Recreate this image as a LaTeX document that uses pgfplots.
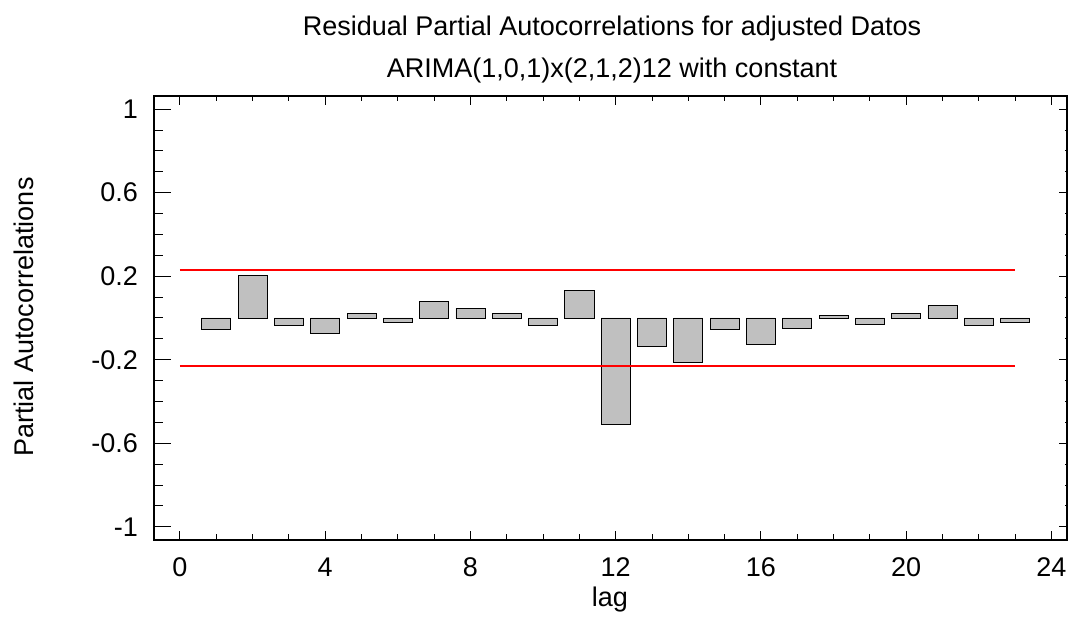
\documentclass[border=0pt]{standalone}
\usepackage{fontspec}
\setmainfont{Liberation Sans}
\usepackage{pgfplots}
\usepackage{pgfplotstable}
\pgfplotsset{compat=1.18}

\definecolor{barfill}{HTML}{C0C0C0}
\definecolor{limred}{HTML}{FF0000}
\newcommand{\lblfont}{\fontsize{27}{32}\selectfont}

% residual partial autocorrelations by lag
\pgfplotstableread{
lag pacf
1  -0.056
2   0.203
3  -0.037
4  -0.075
5   0.021
6  -0.019
7   0.078
8   0.046
9   0.021
10 -0.037
11  0.134
12 -0.511
13 -0.137
14 -0.212
15 -0.056
16 -0.125
17 -0.050
18  0.014
19 -0.032
20  0.021
21  0.059
22 -0.037
23 -0.019
}\pacf

\begin{document}
\begin{tikzpicture}
\pgfplotsset{
  box/.style={
    at={(154pt,81pt)}, anchor=south west,
    scale only axis, width=913pt, height=444pt,
    xmin=-0.716, xmax=24.43, ymin=-1.063, ymax=1.063,
    axis line style={line width=1.1pt},
    tick style={line width=1pt, black},
    /pgf/number format/assume math mode=true,
    tick label style={font=\lblfont},
  }
}
% left y ticks and labels (long ticks)
\begin{axis}[box,
  xtick=\empty,
  ytick={-1,-0.6,-0.2,0.2,0.6,1}, minor y tick num=3, ytick pos=left,
  major tick length=17pt, minor tick length=9pt,
  yticklabel style={anchor=east, inner sep=0pt, xshift=-16pt},
]
\end{axis}
% right y ticks (short)
\begin{axis}[box,
  xtick=\empty,
  ytick={-1,-0.6,-0.2,0.2,0.6,1}, minor y tick num=3, ytick pos=right,
  yticklabels={},
  major tick length=8pt, minor tick length=2pt,
]
\end{axis}
% data + x ticks
\begin{axis}[box,
  xtick={0,4,...,24}, minor x tick num=3, xtick pos=both, xticklabel pos=bottom,
  ytick=\empty,
  major tick length=9pt, minor tick length=5.5pt,
  xticklabel style={anchor=center, yshift=-27pt},
]
\addplot[ybar, bar width=0.8, fill=barfill, draw=black, line width=0.8pt]
  table[x=lag, y=pacf] {\pacf};
% confidence limits, drawn over the bars
\addplot[color=limred, line width=1.2pt, mark=none] coordinates {(0,0.23) (23,0.23)};
\addplot[color=limred, line width=1.2pt, mark=none] coordinates {(0,-0.23) (23,-0.23)};
\end{axis}

\node[anchor=base, font=\lblfont] at (612pt,585pt) {Residual Partial Autocorrelations for adjusted Datos};
\node[anchor=base, font=\lblfont] at (612pt,543pt) {ARIMA(1,0,1)x(2,1,2)12 with constant};
\node[anchor=base, font=\lblfont] at (610pt,14pt) {lag};
\node[anchor=base, rotate=90, font=\lblfont] at (33pt,304pt) {Partial Autocorrelations};

\pgfresetboundingbox
\path (0pt,0pt) rectangle (1068pt,621pt);
\end{tikzpicture}
\end{document}
